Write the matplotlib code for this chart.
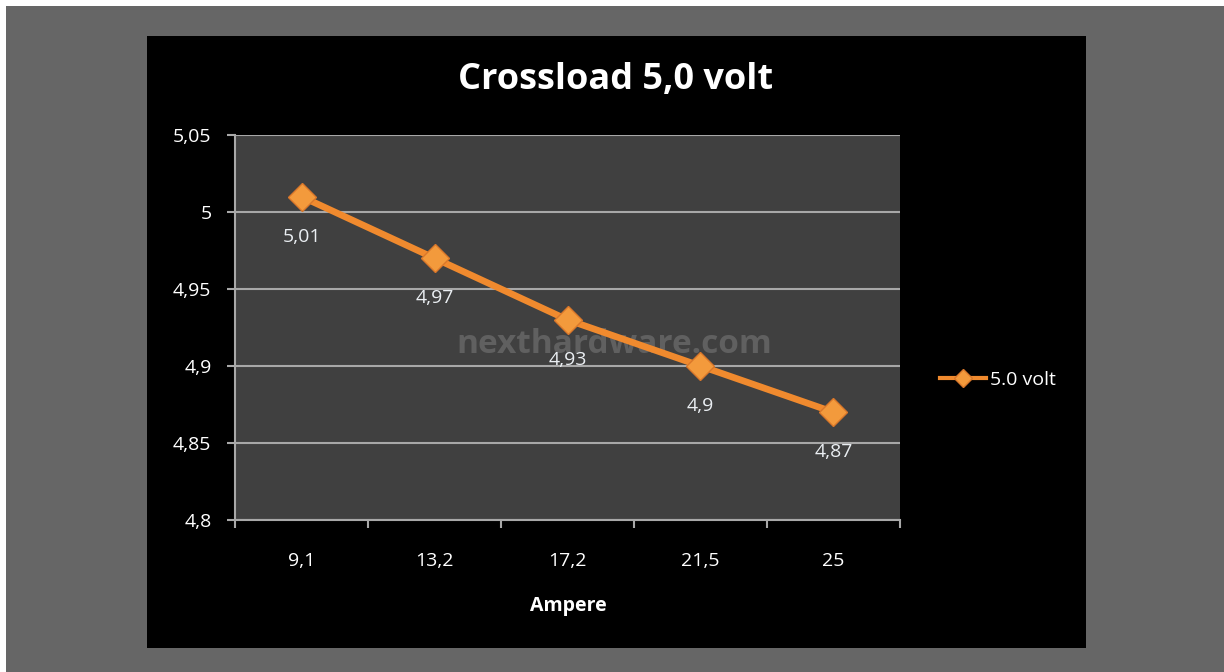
import matplotlib
matplotlib.use("Agg")
import matplotlib.pyplot as plt
from matplotlib.patches import Rectangle
from matplotlib.lines import Line2D

categories = ["9,1", "13,2", "17,2", "21,5", "25"]
values = [5.01, 4.97, 4.93, 4.90, 4.87]
value_labels = ["5,01", "4,97", "4,93", "4,9", "4,87"]
yticks = [4.8, 4.85, 4.9, 4.95, 5.0, 5.05]
ytick_labels = ["4,8", "4,85", "4,9", "4,95", "5", "5,05"]
series_name = "5.0 volt"
title = "Crossload 5,0 volt"
xlabel = "Ampere"
watermark = "nexthardware.com"

W, H = 1224, 672
plt.rcParams['font.family'] = ['Open Sans', 'DejaVu Sans']
fig = plt.figure(figsize=(W / 100, H / 100), dpi=100, facecolor="white")

# outer gray frame and black chart area
fig.patches.append(Rectangle((6 / W, 0), 1 - 6 / W, 1 - 6 / H, transform=fig.transFigure,
                             facecolor="#666666", edgecolor="none", zorder=-3))
fig.patches.append(Rectangle((147 / W, (H - 648) / H), 939 / W, 612 / H, transform=fig.transFigure,
                             facecolor="black", edgecolor="none", zorder=-2))

ax = fig.add_axes([235 / W, (H - 520) / H, 665 / W, 385 / H])
ax.set_facecolor("#404040")
x = list(range(len(categories)))
line_color = "#f08a2e"
ax.plot(x, values, color=line_color, lw=4.8, marker="D", markersize=14,
        markerfacecolor="#f39a3c", markeredgecolor="#d9772a", markeredgewidth=1, zorder=4,
        solid_capstyle="round")

for xi, v, lab in zip(x, values, value_labels):
    ax.annotate(lab, (xi, v), xytext=(0, -29), textcoords="offset points",
                ha="center", va="center", color="#eaeef2", fontsize=14, zorder=5)

ax.set_xlim(-0.5, len(categories) - 0.5)
ax.set_ylim(4.8, 5.05)
ax.set_yticks(yticks)
ax.set_yticklabels(ytick_labels)
ax.yaxis.grid(True, color="#a8a8a8", lw=1.5)
ax.set_axisbelow(True)

ax.set_xticks([i - 0.5 for i in range(len(categories) + 1)])
ax.set_xticklabels([])
ax.set_xticks(x, minor=True)
ax.set_xticklabels(categories, minor=True)
ax.tick_params(axis="x", which="major", length=6, width=1.5, color="#a8a8a8", direction="out")
ax.tick_params(axis="x", which="minor", length=0, pad=23, labelsize=14, labelcolor="white")
ax.tick_params(axis="y", length=6, width=1.5, color="#a8a8a8", direction="out", pad=11,
               labelsize=14, labelcolor="white")

for s in ["top", "right"]:
    ax.spines[s].set_visible(False)
for s in ["left", "bottom"]:
    ax.spines[s].set_color("#a8a8a8")
    ax.spines[s].set_linewidth(1.5)

ax.text(0.57, 0.455, watermark, transform=ax.transAxes, ha="center", va="center",
        fontsize=24, fontweight="bold", color="#606060", zorder=3)

fig.text(616 / W, 1 - 80 / H, title, ha="center", va="center", color="white",
         fontsize=26, fontweight="bold")
fig.text(568 / W, 1 - 606 / H, xlabel, ha="center", va="center", color="white",
         fontsize=14, fontweight="bold")

# legend
handle = Line2D([0], [0], color=line_color, lw=3, marker="D", markersize=9,
                markerfacecolor="#f39a3c", markeredgecolor="#d9772a")
leg = fig.legend([handle], [series_name], loc="center left",
                 bbox_to_anchor=(922 / W, 1 - 380 / H), frameon=False,
                 handlelength=2.4, handletextpad=0.2, fontsize=14)
for t in leg.get_texts():
    t.set_color("white")

fig.savefig("out.png", dpi=100, facecolor=fig.get_facecolor())
